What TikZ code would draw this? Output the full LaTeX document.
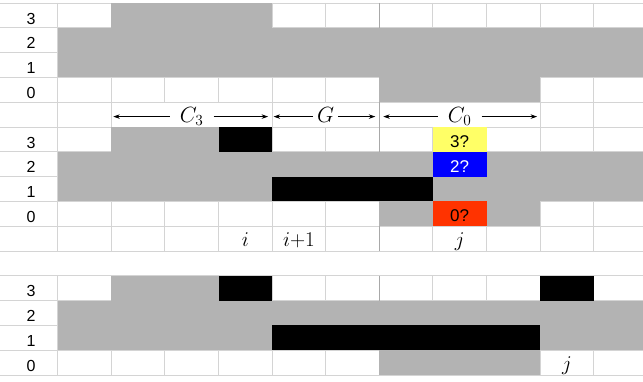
\RequirePackage{fix-cm}
\documentclass[tikz,border=0pt]{standalone}
\usepackage{fontspec}
\setsansfont{Liberation Sans}
\usetikzlibrary{arrows.meta}
\definecolor{cellgray}{HTML}{B3B3B3}
\definecolor{gridgray}{HTML}{D4D4D4}
\definecolor{griddark}{HTML}{A8A8A8}
\definecolor{cellyellow}{HTML}{FFFF66}
\definecolor{cellblue}{HTML}{0000FF}
\definecolor{cellred}{HTML}{FF3300}
\begin{document}
\begin{tikzpicture}[x=53.6pt,y=-24.8pt,
  gridline/.style={draw=gridgray,line width=0.9pt},
  griddk/.style={draw=griddark,line width=0.9pt},
  gcell/.style={fill=cellgray},
  kcell/.style={fill=black},
  rowlab/.style={font=\sffamily\fontsize{16}{19}\selectfont,anchor=base,inner sep=0pt},
  mlab/.style={font=\fontsize{22}{26}\selectfont,anchor=base,inner ysep=0pt},
  idx/.style={font=\fontsize{21}{25}\selectfont,anchor=base,inner sep=0pt},
  qlab/.style={font=\sffamily\fontsize{17}{20}\selectfont,anchor=base,inner sep=0pt},
  arr/.style={-{Stealth[length=6.5pt,width=4.5pt]},line width=0.75pt}]
\useasboundingbox (-57.7pt,3pt) rectangle (585.3pt,-379pt);
\clip (-57.7pt,3pt) rectangle (585.3pt,-379pt);
% grid lines
\foreach \r in {0,...,15} \draw[gridline] (-1.2,\r) -- (11,\r);
\foreach \c in {0,...,10} {
  \draw[gridline] (\c,0) -- (\c,4);
  \draw[gridline] (\c,5) -- (\c,10);
  \draw[gridline] (\c,11) -- (\c,15);
}
\foreach \c in {0,1,4,6,9,10} \draw[gridline] (\c,4) -- (\c,5);
\draw[griddk] (6,0) -- (6,10);
\draw[griddk] (6,11) -- (6,15);
% block 1
\fill[gcell] (1,0) rectangle (4,1);
\fill[gcell] (0,1) rectangle (11,3);
\fill[gcell] (6,3) rectangle (9,4);
% block 2
\fill[gcell] (1,5) rectangle (3,6);
\fill[kcell] (3,5) rectangle (4,6);
\fill[cellyellow] (7,5) rectangle (8,6);
\fill[gcell] (0,6) rectangle (11,7);
\fill[cellblue] (7,6) rectangle (8,7);
\fill[gcell] (0,7) rectangle (4,8);
\fill[kcell] (4,7) rectangle (7,8);
\fill[gcell] (7,7) rectangle (11,8);
\fill[gcell] (6,8) rectangle (9,9);
\fill[cellred] (7,8) rectangle (8,9);
% block 3
\fill[gcell] (1,11) rectangle (3,12);
\fill[kcell] (3,11) rectangle (4,12);
\fill[kcell] (9,11) rectangle (10,12);
\fill[gcell] (0,12) rectangle (11,13);
\fill[gcell] (0,13) rectangle (4,14);
\fill[kcell] (4,13) rectangle (9,14);
\fill[gcell] (9,13) rectangle (11,14);
\fill[gcell] (6,14) rectangle (9,15);
% row labels
\foreach \blk/\off in {a/0,b/5,c/11} {
  \foreach \r/\s in {3/1,2/2,1/3,0/4} {
    \node[rowlab] (lab\blk\r) at ([xshift=-26.7pt,yshift=3.7pt]0,\off+\s) {\r};
  }
}
% colored cell texts
\node[qlab] (q3) at ([yshift=4.5pt]7.5,6) {3?};
\node[qlab,text=white] (q2) at ([yshift=4.5pt]7.5,7) {2?};
\node[qlab] (q0) at ([yshift=4.5pt]7.5,9) {0?};
% span labels
\node[mlab,inner xsep=10pt] (c3) at ([yshift=-8pt]2.5,4.5) {$C_3$};
\node[mlab,inner xsep=4pt] (gg) at ([yshift=-8pt]5,4.5) {$G$};
\node[mlab,inner xsep=10pt] (c0) at ([yshift=-8pt]7.5,4.5) {$C_0$};
\coordinate (c3l) at ([xshift=2pt,yshift=-2pt]1,4.5);
\coordinate (c3r) at ([xshift=-4pt,yshift=-2pt]4,4.5);
\coordinate (ggl) at ([xshift=1.5pt,yshift=-2pt]4,4.5);
\coordinate (ggr) at ([xshift=-4pt,yshift=-2pt]6,4.5);
\coordinate (c0l) at ([xshift=4pt,yshift=-2pt]6,4.5);
\coordinate (c0r) at ([xshift=-3pt,yshift=-2pt]9,4.5);
\draw[arr] (c3.west |- c3l) -- (c3l);
\draw[arr] (c3.east |- c3r) -- (c3r);
\draw[arr] (gg.west |- ggl) -- (ggl);
\draw[arr] (gg.east |- ggr) -- (ggr);
\draw[arr] (c0.west |- c0l) -- (c0l);
\draw[arr] (c0.east |- c0r) -- (c0r);
% index labels
\node[idx] (ii) at ([yshift=-7.5pt]3.5,9.5) {$i$};
\node[idx] (ip) at ([yshift=-7.5pt]4.5,9.5) {$i{+}1$};
\node[idx] (jj) at ([yshift=-7.5pt]7.5,9.5) {$j$};
\node[idx] (jk) at ([yshift=-7.5pt]9.5,14.5) {$j$};
\end{tikzpicture}
\end{document}
